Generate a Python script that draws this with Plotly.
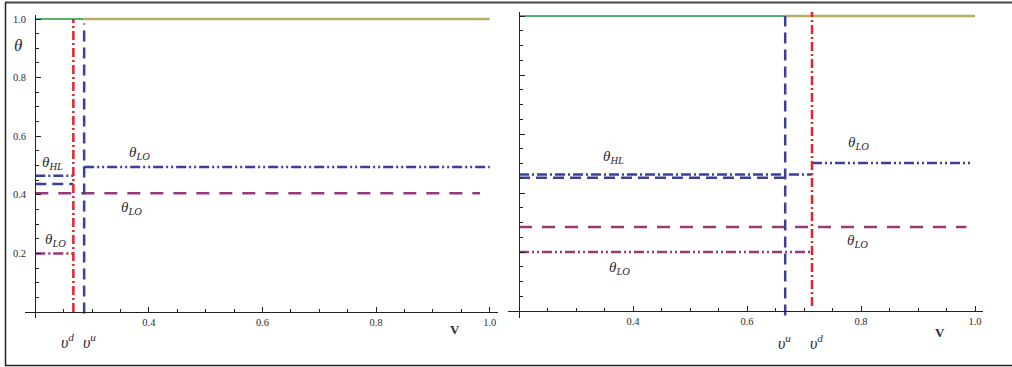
import plotly.graph_objects as go

W, H = 1012, 367

# ---------------- data ----------------
# left panel
L_vd = 0.267           # v^d (red dash-dot vertical)
L_vu = 0.286           # v^u (blue dashed vertical)
L_theta_top = 1.0
L_theta_LO_blue = 0.495
L_theta_HL_dashdot = 0.465
L_theta_HL_dash = 0.437
L_theta_LO_purple_dash = 0.405
L_theta_LO_purple_dashdot = 0.20
L_purple_dash_end = 0.983

# right panel
R_vu = 0.667
R_vd = 0.714
R_theta_top = 1.0
R_theta_LO_blue = 0.502
R_theta_HL_dashdot = 0.463
R_theta_HL_dash = 0.452
R_theta_LO_purple_dash = 0.285
R_theta_LO_purple_dashdot = 0.20
R_blue_LO_end = 0.995
R_purple_dash_end = 0.985

x_start = 0.2
x_end = 1.0
x_ticks = [0.4, 0.6, 0.8, 1.0]
x_ticktext = ["0.4", "0.6", "0.8", "1.0"]
y_ticks = [0.2, 0.4, 0.6, 0.8, 1.0]
y_ticktext = ["0.2", "0.4", "0.6", "0.8", "1.0"]

# ---------------- styles ----------------
GREEN = "#4fb46a"
OLIVE = "#b9ad66"
RED = "#e8222c"
BLUE = "#3b3f98"
PURPLE = "#98397a"
TXT = "#2a2a3a"
SERIF = "Liberation Serif, DejaVu Serif, serif"

DASH_V = "11px,6px"
DASHDOT_RED = "9px,3px,2px,3px"
DASHDOTDOT = "10px,3px,2px,3px,2px,3px"
DASHDOT = "10px,3px,2px,3px"
DASH_P = "13px,10px"

fig = go.Figure()


def seg(x0, x1, y0, y1, color, dash, width, ax):
    xa, ya = ("x", "y") if ax == 1 else ("x2", "y2")
    fig.add_trace(go.Scatter(x=[x0, x1], y=[y0, y1], mode="lines",
                             line=dict(color=color, dash=dash, width=width),
                             xaxis=xa, yaxis=ya, showlegend=False,
                             hoverinfo="skip"))


# ----- left panel -----
seg(x_start, L_vu, L_theta_top, L_theta_top, GREEN, "solid", 2.2, 1)
seg(L_vu, x_end, L_theta_top, L_theta_top, OLIVE, "solid", 2.6, 1)
seg(x_start, L_vd, L_theta_LO_purple_dashdot, L_theta_LO_purple_dashdot, PURPLE, DASHDOT, 2.5, 1)
seg(x_start, L_purple_dash_end, L_theta_LO_purple_dash, L_theta_LO_purple_dash, PURPLE, DASH_P, 2.5, 1)
seg(x_start, L_vd, L_theta_HL_dash, L_theta_HL_dash, BLUE, DASH_V, 2.5, 1)
seg(x_start, L_vd, L_theta_HL_dashdot, L_theta_HL_dashdot, BLUE, DASHDOT, 2.5, 1)
seg(L_vu, x_end, L_theta_LO_blue, L_theta_LO_blue, BLUE, DASHDOTDOT, 2.5, 1)
seg(L_vu, L_vu, -0.005, 0.985, BLUE, DASH_V, 2.5, 1)
seg(L_vd, L_vd, 0.0, 1.0, RED, DASHDOT_RED, 2.5, 1)

# ----- right panel -----
seg(x_start, R_vu, R_theta_top, R_theta_top, GREEN, "solid", 2.2, 2)
seg(R_vu, x_end, R_theta_top, R_theta_top, OLIVE, "solid", 2.6, 2)
seg(x_start, R_vd, R_theta_LO_purple_dashdot, R_theta_LO_purple_dashdot, PURPLE, DASHDOTDOT, 2.5, 2)
seg(x_start, R_purple_dash_end, R_theta_LO_purple_dash, R_theta_LO_purple_dash, PURPLE, DASH_P, 2.5, 2)
seg(x_start, R_vu, R_theta_HL_dash, R_theta_HL_dash, BLUE, DASH_V, 2.5, 2)
seg(x_start, R_vd, R_theta_HL_dashdot, R_theta_HL_dashdot, BLUE, DASHDOT, 2.5, 2)
seg(R_vd, R_blue_LO_end, R_theta_LO_blue, R_theta_LO_blue, BLUE, DASHDOTDOT, 2.5, 2)
seg(R_vu, R_vu, -0.015, 1.0, BLUE, DASH_V, 2.5, 2)
seg(R_vd, R_vd, 0.017, 1.02, RED, DASHDOT_RED, 2.5, 2)

# ---------------- axes ----------------
def px2fx(px):
    return px / W


def py2fy(py):
    return 1 - py / H


axis_common = dict(showgrid=False, zeroline=False, showline=True,
                   linecolor="#222", linewidth=1.3, ticks="inside",
                   tickcolor="#222", tickwidth=1.2, ticklen=5,
                   tickfont=dict(family=SERIF, size=10.5, color=TXT))

fig.update_layout(
    xaxis=dict(axis_common, domain=[px2fx(25), px2fx(498)],
               range=[0.2 - 10.3 / 568, 0.2 + 462.7 / 568],
               anchor="free", position=py2fy(312),
               tickmode="array", tickvals=x_ticks, ticktext=x_ticktext,
               minor=dict(tickmode="linear", tick0=0.2, dtick=0.05,
                          ticks="inside", ticklen=3, tickcolor="#222")),
    yaxis=dict(axis_common, domain=[py2fy(318), py2fy(15)],
               range=[-6 / 293, 1 + 4 / 293],
               anchor="free", position=px2fx(35.3),
               tickmode="array", tickvals=y_ticks, ticktext=y_ticktext,
               ticklabelstandoff=7,
               minor=dict(tickmode="linear", tick0=0, dtick=0.05,
                          ticks="inside", ticklen=3, tickcolor="#222")),
    xaxis2=dict(axis_common, domain=[px2fx(508), px2fx(983)],
                range=[0.2 - 11 / 570, 0.2 + 464 / 570],
                anchor="free", position=py2fy(311),
                tickmode="array", tickvals=x_ticks, ticktext=x_ticktext,
                minor=dict(tickmode="linear", tick0=0.2, dtick=0.05,
                           ticks="inside", ticklen=3, tickcolor="#222")),
    yaxis2=dict(axis_common, domain=[py2fy(318), py2fy(12)],
                range=[-7 / 295, 1 + 4 / 295],
                anchor="free", position=px2fx(518.5),
                tickmode="array", tickvals=y_ticks, showticklabels=False,
                minor=dict(tickmode="linear", tick0=0, dtick=0.05,
                           ticks="inside", ticklen=3, tickcolor="#222")),
)

# ---------------- labels ----------------
def th(sub):
    return "<i>θ</i><sub><i>%s</i></sub>" % sub


# labels inside the plotting areas (data coordinates)
labels = [
    (th("LO"), 0.384, 0.543, 1, 15),
    (th("HL"), 0.231, 0.508, 1, 15),
    (th("LO"), 0.370, 0.355, 1, 15),
    (th("LO"), 0.235, 0.246, 1, 15),
    (th("HL"), 0.365, 0.522, 2, 15),
    (th("LO"), 0.377, 0.146, 2, 15),
    (th("LO"), 0.795, 0.569, 2, 15),
    (th("LO"), 0.793, 0.237, 2, 15),
]
for text, x, y, ax, size in labels:
    fig.add_annotation(text=text, x=x, y=y,
                       xref="x" if ax == 1 else "x2",
                       yref="y" if ax == 1 else "y2",
                       showarrow=False,
                       font=dict(family=SERIF, size=size, color=TXT))

# labels outside the plotting areas (page positions)
outside = [
    ("<i>θ</i>", 18, 46, 17),
    ("<i>υ</i><sup><i>d</i></sup>", 67, 341, 16),
    ("<i>υ</i><sup><i>u</i></sup>", 89, 341, 16),
    ("<b>V</b>", 455, 329, 13),
    ("<i>υ</i><sup><i>u</i></sup>", 784, 342, 16),
    ("<i>υ</i><sup><i>d</i></sup>", 816, 342, 16),
    ("<b>V</b>", 940, 332, 13),
]
for text, px, py, size in outside:
    fig.add_annotation(text=text, x=px2fx(px), y=py2fy(py),
                       xref="paper", yref="paper", showarrow=False,
                       xanchor="center", yanchor="middle",
                       font=dict(family=SERIF, size=size, color=TXT))

# ---------------- outer frame ----------------
fig.add_shape(type="line", xref="paper", yref="paper",
              x0=px2fx(5), x1=1, y0=py2fy(2.5), y1=py2fy(2.5),
              line=dict(color="#444", width=2))
fig.add_shape(type="line", xref="paper", yref="paper",
              x0=px2fx(5.5), x1=px2fx(5.5), y0=py2fy(2.5), y1=py2fy(365.5),
              line=dict(color="#222", width=1.5))
fig.add_shape(type="line", xref="paper", yref="paper",
              x0=px2fx(5), x1=1, y0=py2fy(365.5), y1=py2fy(365.5),
              line=dict(color="#222", width=1.5))

fig.update_layout(width=W, height=H, margin=dict(l=0, r=0, t=0, b=0),
                  paper_bgcolor="white", plot_bgcolor="white",
                  showlegend=False)

fig.write_html("out.html")
